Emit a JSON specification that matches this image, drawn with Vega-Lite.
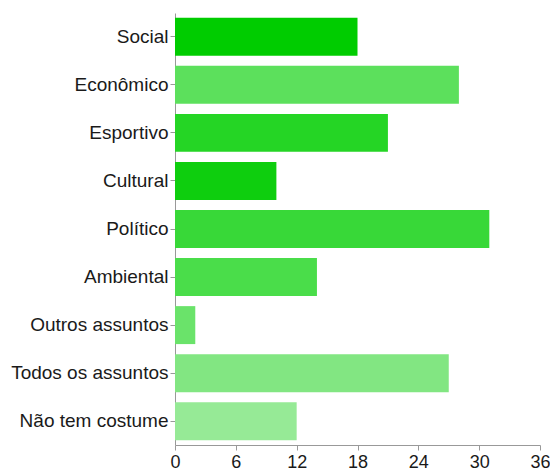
{
  "$schema": "https://vega.github.io/schema/vega-lite/v6.json",
  "autosize": "none",
  "width": 365,
  "height": 432,
  "padding": {"left": 175, "top": 13, "right": 10, "bottom": 25},
  "background": "white",
  "data": {
    "values": [
      {"tema": "Social", "valor": 18, "cor": "#00CC00"},
      {"tema": "Econômico", "valor": 28, "cor": "#5CE05C"},
      {"tema": "Esportivo", "valor": 21, "cor": "#25D525"},
      {"tema": "Cultural", "valor": 10, "cor": "#0ECE0E"},
      {"tema": "Político", "valor": 31, "cor": "#38D838"},
      {"tema": "Ambiental", "valor": 14, "cor": "#4ADD4A"},
      {"tema": "Outros assuntos", "valor": 2, "cor": "#6AE36A"},
      {"tema": "Todos os assuntos", "valor": 27, "cor": "#82E682"},
      {"tema": "Não tem costume", "valor": 12, "cor": "#96EA96"}
    ]
  },
  "mark": {"type": "bar"},
  "encoding": {
    "y": {
      "field": "tema",
      "type": "nominal",
      "sort": null,
      "scale": {"paddingInner": 0.21, "paddingOuter": 0.1},
      "axis": {
        "title": null,
        "labelFont": "Liberation Sans",
        "labelFontSize": 19,
        "labelColor": "#1a1a1a",
        "labelPadding": 2,
        "domainColor": "#999999",
        "tickColor": "#999999",
        "tickSize": 5,
        "labelLimit": 300
      }
    },
    "x": {
      "field": "valor",
      "type": "quantitative",
      "scale": {"domain": [0, 36], "nice": false},
      "axis": {
        "title": null,
        "values": [0, 6, 12, 18, 24, 30, 36],
        "grid": false,
        "labelFont": "Liberation Sans",
        "labelFontSize": 18,
        "labelColor": "#1a1a1a",
        "labelPadding": 17,
        "labelBaseline": "alphabetic",
        "domainColor": "#999999",
        "tickColor": "#999999",
        "tickSize": 5,
        "labelFlush": false
      }
    },
    "color": {"field": "cor", "type": "nominal", "scale": null}
  },
  "config": {"view": {"stroke": null}}
}
